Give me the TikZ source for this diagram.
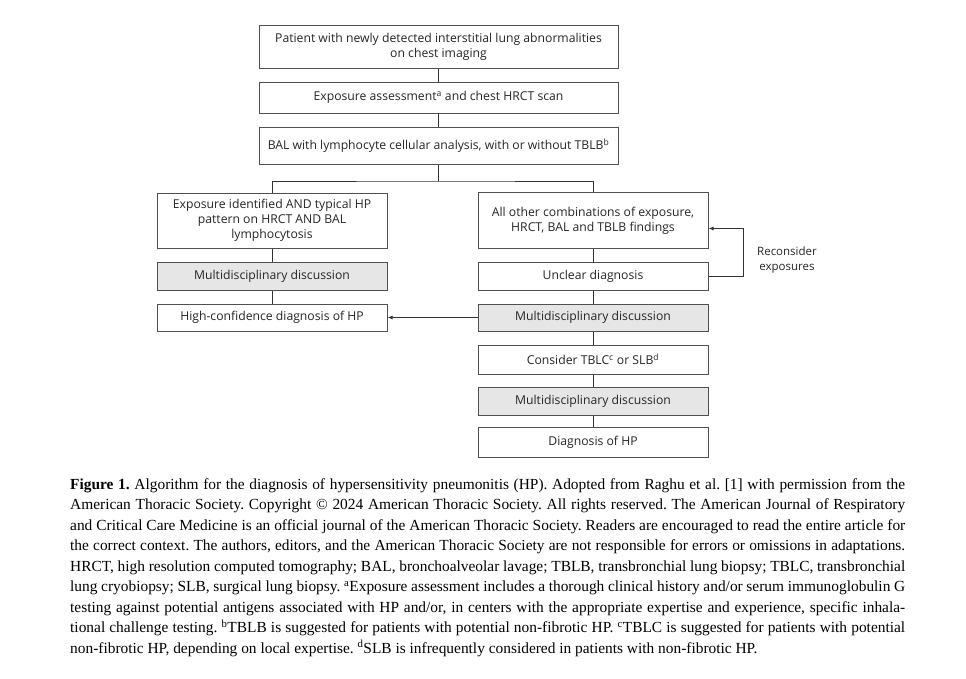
\documentclass[tikz,border=0pt]{standalone}
\usepackage{fontspec}
\setmainfont{Liberation Serif}
\newfontfamily\diafont{Open Sans}
\usetikzlibrary{arrows.meta}
\definecolor{boxline}{HTML}{505050}
\definecolor{boxgray}{HTML}{E6E6E6}
\tikzset{
  fbox/.style={draw=boxline, line width=1pt, fill=white, inner sep=2pt,
    align=center, font=\diafont\fontsize{12.2}{15}\selectfont, text=black!85},
  gbox/.style={fbox, fill=boxgray},
  conn/.style={draw=black!80, line width=1pt},
  arr/.style={conn, -{Latex[length=5pt,width=4pt]}},
  capline/.style={anchor=base west, inner sep=0pt, font=\fontsize{15.4}{18}\selectfont\frenchspacing}
}
\begin{document}
\begin{tikzpicture}[x=1pt,y=-1pt]
\useasboundingbox[fill=white] (0,0) rectangle (966,678);
% top boxes
\node[fbox, minimum width=359, minimum height=43] (b1) at (438.5,46.5)
  {Patient with newly detected interstitial lung abnormalities\\on chest imaging};
\node[fbox, minimum width=359, minimum height=31] (b2) at (438.5,97.5)
  {Exposure assessment\textsuperscript{a} and chest HRCT scan};
\node[fbox, minimum width=359, minimum height=37] (b3) at (438.5,145.5)
  {BAL with lymphocyte cellular analysis, with or without TBLB\textsuperscript{b}};
% left column
\node[fbox, minimum width=230, minimum height=55] (L1) at (272,220.5)
  {Exposure identified AND typical HP\\pattern on HRCT AND BAL\\lymphocytosis};
\node[gbox, minimum width=230, minimum height=28] (L2) at (272,276)
  {Multidisciplinary discussion};
\node[fbox, minimum width=230, minimum height=27] (L3) at (272,317.5)
  {High-confidence diagnosis of HP};
% right column
\node[fbox, minimum width=230, minimum height=56] (R1) at (593,220.5)
  {All other combinations of exposure,\\HRCT, BAL and TBLB findings};
\node[fbox, minimum width=230, minimum height=28] (R2) at (593,276)
  {Unclear diagnosis};
\node[gbox, minimum width=230, minimum height=27] (R3) at (593,317.5)
  {Multidisciplinary discussion};
\node[fbox, minimum width=230, minimum height=29] (R4) at (593,359.5)
  {Consider TBLC\textsuperscript{c} or SLB\textsuperscript{d}};
\node[gbox, minimum width=230, minimum height=28] (R5) at (593,401)
  {Multidisciplinary discussion};
\node[fbox, minimum width=230, minimum height=30] (R6) at (593,442)
  {Diagnosis of HP};
\node[align=center, inner sep=0pt, font=\diafont\fontsize{11.5}{15.5}\selectfont, text=black!85] (rec) at (787,260)
  {Reconsider\\exposures};
% connectors
\coordinate (br) at (438.5,181);
\coordinate (rc) at (743,276);
\coordinate (rin) at (708.5,228.5);
\draw[conn] (b1) -- (b2);
\draw[conn] (b2) -- (b3);
\draw[conn] (b3.south) -- (br);
\draw[conn] (L1.north) |- (br) -| (R1.north);
\draw[conn] (L1) -- (L2);
\draw[conn] (L2) -- (L3);
\draw[conn] (R1) -- (R2);
\draw[conn] (R2) -- (R3);
\draw[conn] (R3) -- (R4);
\draw[conn] (R4) -- (R5);
\draw[conn] (R5) -- (R6);
\draw[arr] (R3.west) -- (L3.east);
\draw[arr] (R2.east) -- (rc) |- (rin);
% caption
\node[capline] (c1) at (70,489) {\makebox[835pt][s]{\textbf{Figure 1.} Algorithm for the diagnosis of hypersensitivity pneumonitis (HP). Adopted from Raghu et al. [1] with permission from the}};
\node[capline] (c2) at (70,509.5) {\makebox[835pt][s]{American Thoracic Society. Copyright © 2024 American Thoracic Society. All rights reserved. The American Journal of Respiratory}};
\node[capline] (c3) at (70,530) {\makebox[835pt][s]{and Critical Care Medicine is an official journal of the American Thoracic Society. Readers are encouraged to read the entire article for}};
\node[capline] (c4) at (70,550.5) {\makebox[835pt][s]{the correct context. The authors, editors, and the American Thoracic Society are not responsible for errors or omissions in adaptations.}};
\node[capline] (c5) at (70,571) {\makebox[835pt][s]{HRCT, high resolution computed tomography; BAL, bronchoalveolar lavage; TBLB, transbronchial lung biopsy; TBLC, transbronchial}};
\node[capline] (c6) at (70,591.5) {\makebox[835pt][s]{lung cryobiopsy; SLB, surgical lung biopsy. \textsuperscript{a}Exposure assessment includes a thorough clinical history and/or serum immunoglobulin G}};
\node[capline] (c7) at (70,612) {\makebox[835pt][s]{testing against potential antigens associated with HP and/or, in centers with the appropriate expertise and experience, specific inhala-}};
\node[capline] (c8) at (70,632.5) {\makebox[835pt][s]{tional challenge testing. \textsuperscript{b}TBLB is suggested for patients with potential non-fibrotic HP. \textsuperscript{c}TBLC is suggested for patients with potential}};
\node[capline] (c9) at (70,653) {non-fibrotic HP, depending on local expertise. \textsuperscript{d}SLB is infrequently considered in patients with non-fibrotic HP.};
\end{tikzpicture}
\end{document}
